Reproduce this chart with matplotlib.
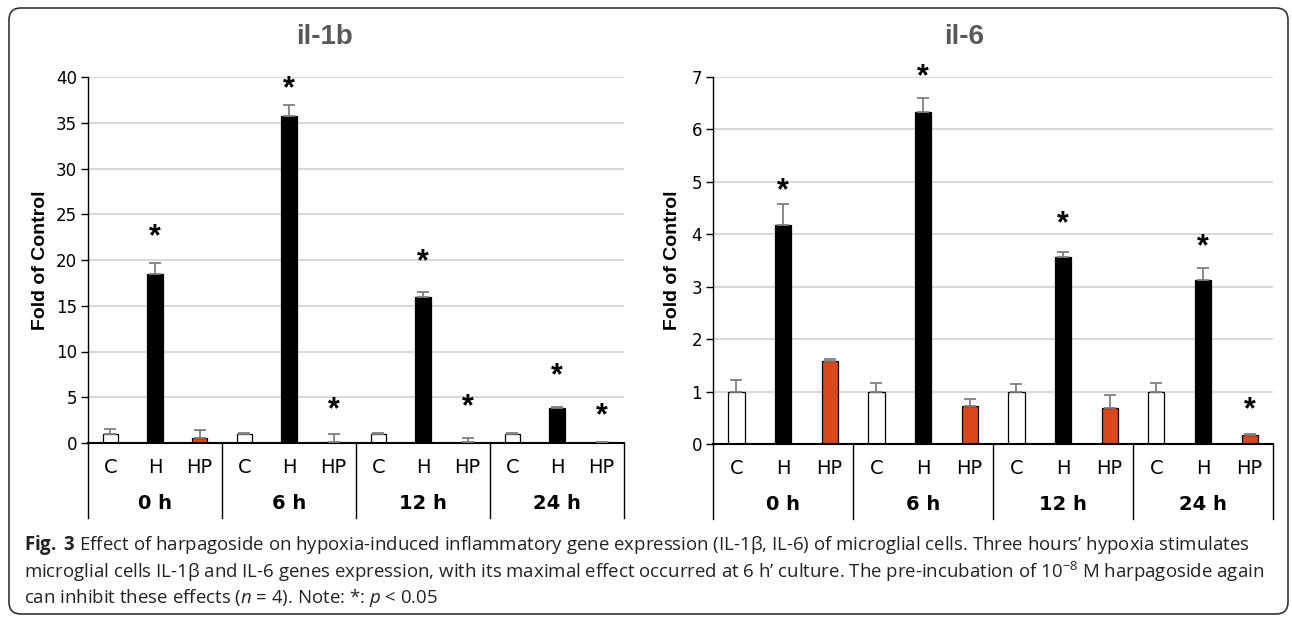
import numpy as np
import matplotlib
matplotlib.use('Agg')
import matplotlib.pyplot as plt
from matplotlib import font_manager
from matplotlib.patches import FancyBboxPatch
from matplotlib.transforms import IdentityTransform, blended_transform_factory

# groups / conditions
times = ['0 h', '6 h', '12 h', '24 h']
conds = ['C', 'H', 'HP']

# il-1b (fold of control), upper error only
il1b_c = [1.0, 1.0, 1.0, 1.0]
il1b_c_err = [0.55, 0.1, 0.05, 0.1]
il1b_h = [18.5, 35.7, 16.0, 3.8]
il1b_h_err = [1.2, 1.2, 0.5, 0.1]
il1b_hp = [0.55, 0.15, 0.15, 0.1]
il1b_hp_err = [0.85, 0.8, 0.45, 0.05]
il1b_star_h = [22.9, 39.1, 20.2, 7.7]
il1b_star_hp = [None, 4.0, 4.4, 3.4]

# il-6
il6_c = [1.0, 1.0, 1.0, 1.0]
il6_c_err = [0.23, 0.17, 0.14, 0.17]
il6_h = [4.17, 6.33, 3.56, 3.12]
il6_h_err = [0.4, 0.27, 0.11, 0.23]
il6_hp = [1.58, 0.73, 0.68, 0.18]
il6_hp_err = [0.05, 0.12, 0.26, 0.02]
il6_star_h = [4.9, 7.08, 4.27, 3.83]
il6_star_hp = [None, None, None, 0.72]

names = {f.name for f in font_manager.fontManager.ttflist}
NARROW = 'Liberation Sans Narrow' if 'Liberation Sans Narrow' in names else 'DejaVu Sans'
ARIAL = 'Liberation Sans'
CAP = 'Open Sans'

plt.rcParams['mathtext.fontset'] = 'custom'
plt.rcParams['mathtext.rm'] = CAP
plt.rcParams['mathtext.it'] = CAP + ':italic'
plt.rcParams['mathtext.bf'] = CAP + ':bold'

FILL = {'C': 'white', 'H': 'black', 'HP': '#d9481c'}
W, H = 1292, 617


def draw_panel(ax, series, errs, stars, ymax, ystep, title_x, title):
    n = len(times)
    for k, cond in enumerate(conds):
        xs = np.arange(n) * 3 + k
        ax.bar(xs, series[k], width=0.35, color=FILL[cond], edgecolor='black',
               linewidth=0.9, zorder=2)
        ax.errorbar(xs, series[k], yerr=[np.zeros(n), errs[k]], fmt='none',
                    ecolor='#808080', elinewidth=1.3, capsize=4, capthick=1.3, zorder=3)
    for k, st in ((1, stars[0]), (2, stars[1])):
        for g, s in enumerate(st):
            if s is not None:
                ax.annotate('*', (3 * g + k, s), xytext=(0, -3), textcoords='offset points',
                            ha='center', va='center', fontsize=22, fontweight='bold',
                            family=ARIAL, annotation_clip=False, zorder=4)

    ax.set_xlim(-0.5, 3 * n - 0.5)
    ax.set_ylim(0, ymax)
    ax.set_yticks(np.arange(0, ymax + ystep / 2, ystep))
    ax.yaxis.grid(True, color='#d9d9d9', linewidth=1.5)
    ax.set_axisbelow(True)
    for sp in ('top', 'right'):
        ax.spines[sp].set_visible(False)
    ax.spines['left'].set_linewidth(1.0)
    ax.spines['bottom'].set_linewidth(1.5)
    ax.tick_params(axis='y', direction='out', length=5, width=1, pad=3, labelsize=12)
    for lab in ax.get_yticklabels():
        lab.set_family(NARROW)

    ax.set_xticks(np.arange(3 * n))
    ax.set_xticklabels(conds * n, family=NARROW, fontsize=14)
    ax.tick_params(axis='x', length=0, pad=11)

    tr = blended_transform_factory(ax.transData, ax.transAxes)
    for b in np.arange(n + 1) * 3 - 0.5:
        ax.plot([b, b], [0, -0.205], transform=tr, color='black', lw=1.0, clip_on=False)
    for g, t in enumerate(times):
        ax.text(3 * g + 1, -0.164, t, transform=tr, ha='center', va='center',
                family=NARROW, fontsize=14, fontweight='bold')

    ax.set_ylabel('Fold of Control', family=ARIAL, fontsize=14, fontweight='bold')
    fig.text(title_x, 1 - 37 / H, title, ha='center', va='center', family=ARIAL,
             fontsize=20, fontweight='bold', color='#595959')


fig = plt.figure(figsize=(W / 100, H / 100), dpi=100)

ax1 = fig.add_axes([88 / W, 1 - 443 / H, 536 / W, 366 / H])
draw_panel(ax1, [il1b_c, il1b_h, il1b_hp], [il1b_c_err, il1b_h_err, il1b_hp_err],
           [il1b_star_h, il1b_star_hp], 40, 5, 324 / W, 'il-1b')
ax1.yaxis.set_label_coords(-0.072, 0.5)

ax2 = fig.add_axes([713 / W, 1 - 444 / H, 560 / W, 367 / H])
draw_panel(ax2, [il6_c, il6_h, il6_hp], [il6_c_err, il6_h_err, il6_hp_err],
           [il6_star_h, il6_star_hp], 7, 1, 964 / W, 'il-6')
ax2.yaxis.set_label_coords(-0.057, 0.5)

# rounded frame around the whole figure
frame = FancyBboxPatch((9, H - 614), 1279, 606, boxstyle='round,pad=0,rounding_size=12',
                       transform=IdentityTransform(), fill=False, ec='#333333', lw=1.2)
fig.add_artist(frame)

caption = [
    r'$\mathbf{Fig.}$ $\mathbf{3}$ Effect of harpagoside on hypoxia-induced inflammatory gene '
    r'expression (IL-1β, IL-6) of microglial cells. Three hours’ hypoxia stimulates',
    r'microglial cells IL-1β and IL-6 genes expression, with its maximal effect occurred at '
    r'6 h’ culture. The pre-incubation of 10$^{-8}$ M harpagoside again',
    r'can inhibit these effects ($n$ = 4). Note: *: $p$ < 0.05',
]
for i, line in enumerate(caption):
    fig.text(24 / W, 1 - (545 + 26.5 * i) / H, line, ha='left', va='center',
             family=CAP, fontsize=13.4, color='#222222')

fig.savefig('out.png', dpi=100)
